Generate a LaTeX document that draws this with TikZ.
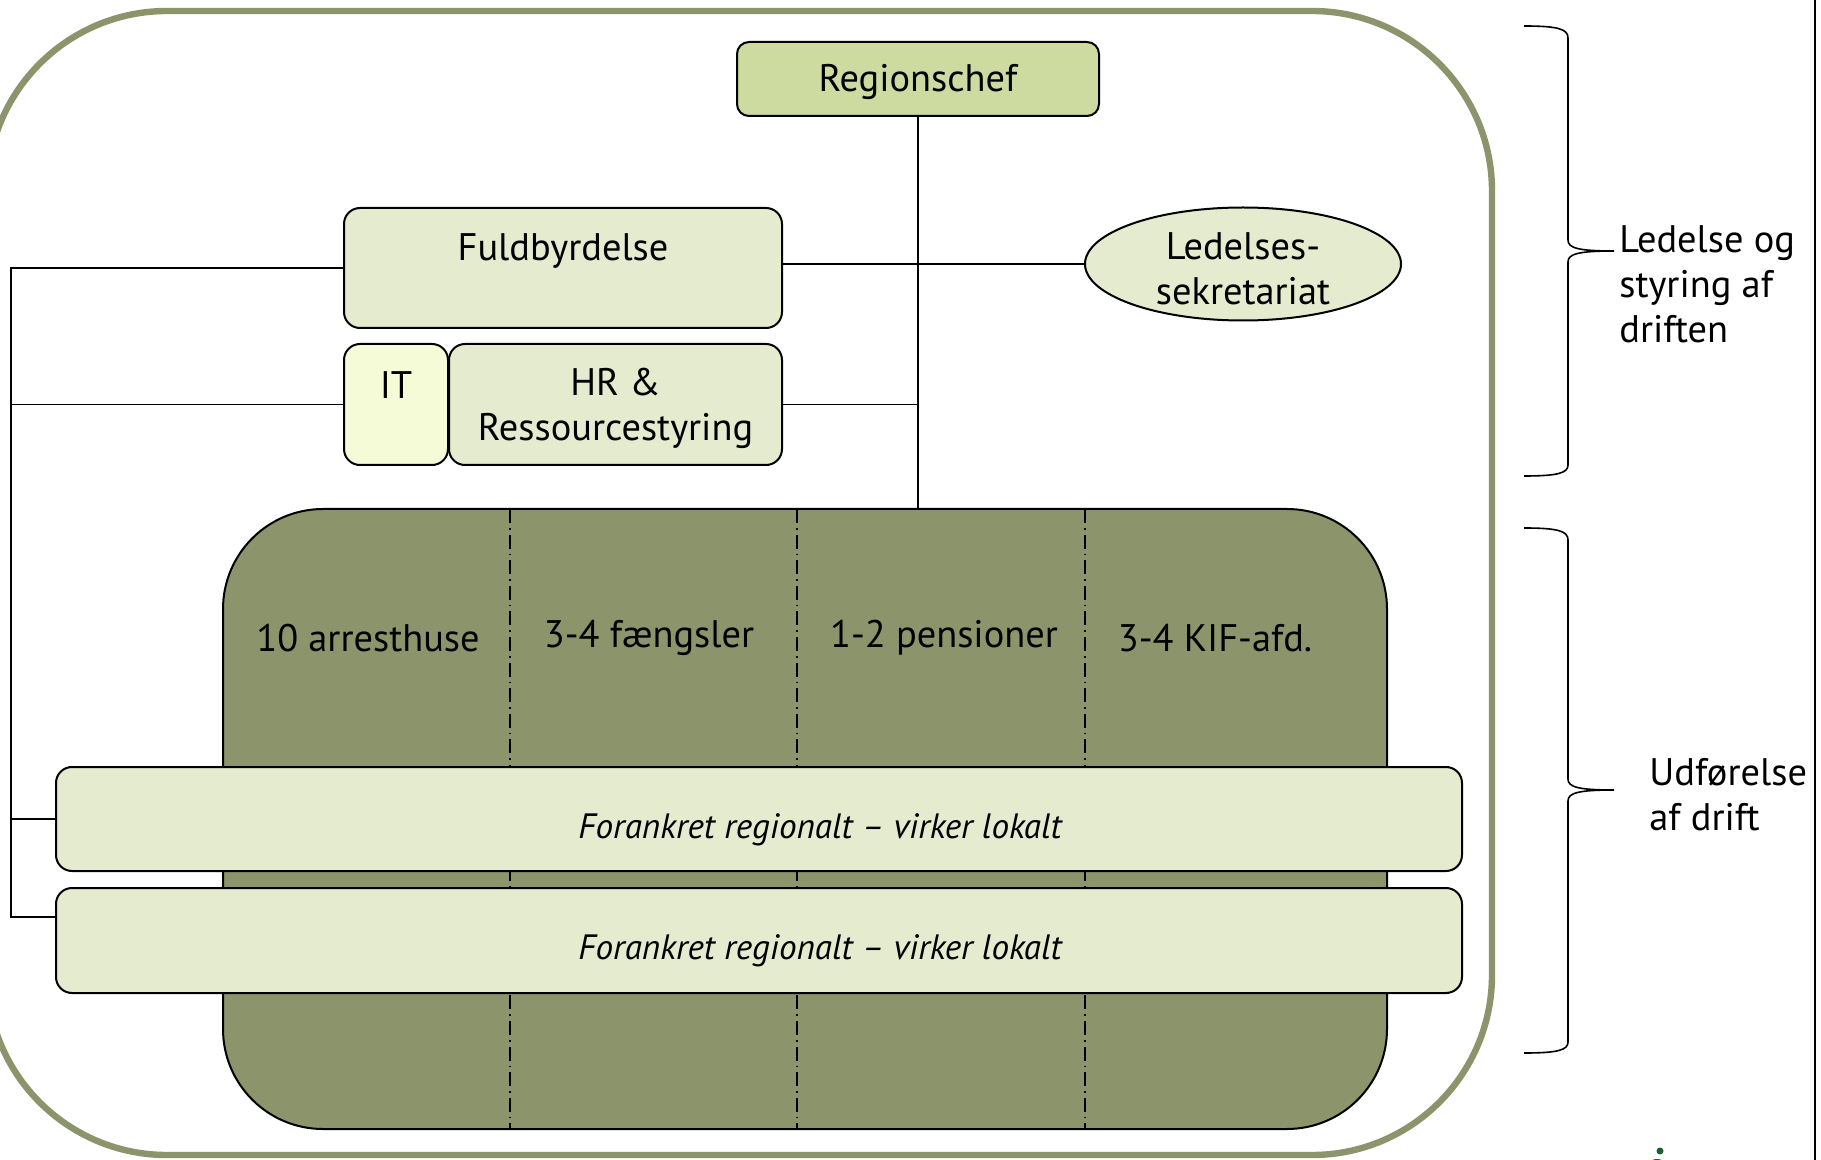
\documentclass[tikz,border=0pt]{standalone}
\usepackage{fontspec}
\setmainfont{PT Sans}
\usetikzlibrary{shapes.geometric}
\definecolor{olivec}{RGB}{139,148,106}
\definecolor{headc}{RGB}{205,219,160}
\definecolor{lightc}{RGB}{228,235,207}
\definecolor{itc}{RGB}{245,251,215}
\definecolor{logoc}{RGB}{30,95,50}
\begin{document}
\begin{tikzpicture}[x=0.5pt,y=-0.5pt,
  lbox/.style={draw=black, line width=1pt, fill=lightc, rounded corners=8pt, inner sep=0pt},
  conn/.style={draw=black, line width=0.9pt},
  txt/.style={font=\fontsize{19.2}{22.5}\selectfont, align=center, inner sep=0pt},
  itxt/.style={font=\fontsize{17.6}{20}\selectfont\itshape, inner sep=0pt},
  divider/.style={draw=black, line width=0.6pt, dash pattern=on 7pt off 2.5pt on 0.8pt off 2.5pt},
  bracestyle/.style={draw=black, line width=0.8pt}]
\path[use as bounding box] (0,0) rectangle (1821,1160);
\clip (0,0) rectangle (1821,1160);
\fill[white] (0,0) rectangle (1821,1160);

% outer frame
\draw[olivec, line width=3.2pt, rounded corners=90pt] (-13,11) rectangle (1492,1155);

% big operations box
\node[draw=black, line width=1pt, fill=olivec, rounded corners=50pt, minimum width=582pt, minimum height=310pt, inner sep=0pt] (big) at (805,819) {};
\draw[divider] (510,509) -- (510,1129);
\draw[divider] (797,509) -- (797,1129);
\draw[divider] (1085,509) -- (1085,1129);
\node[txt] (c1) at (368,638) {10 arresthuse};
\node[txt] (c2) at (649,638) {3-4 fængsler};
\node[txt] (c3) at (944,638) {1-2 pensioner};
\node[txt] (c4) at (1215,638) {3-4 KIF-afd.};

% bars
\node[lbox, minimum width=703pt, minimum height=52pt] (bar1) at (759,819) {};
\node[itxt] (b1t) at (820,830) {Forankret regionalt – virker lokalt};
\node[lbox, minimum width=703pt, minimum height=52.5pt] (bar2) at (759,940.5) {};
\node[itxt] (b2t) at (820,951) {Forankret regionalt – virker lokalt};

% top boxes
\node[lbox, fill=headc, rounded corners=6pt, minimum width=181pt, minimum height=37pt] (reg) at (918,79) {};
\node[txt] (regt) at (918,82) {Regionschef};
\node[lbox, minimum width=219pt, minimum height=60pt] (fuld) at (563,268) {};
\node[txt] (fuldt) at (563,251) {Fuldbyrdelse};
\node[lbox, fill=itc, minimum width=52pt, minimum height=60.5pt] (it) at (396,404.5) {};
\node[txt] (itt) at (396,385) {IT};
\node[lbox, minimum width=166.5pt, minimum height=60.5pt] (hr) at (615.5,404.5) {};
\node[txt] (hrt) at (615.5,408) {HR \&\\Ressourcestyring};
\node[ellipse, draw=black, line width=1pt, fill=lightc, minimum width=158pt, minimum height=56.5pt, inner sep=0pt] (led) at (1243,264) {};
\node[txt] (ledt) at (1243,269) {Ledelses-\\sekretariat};

% connectors
\coordinate (bt) at (11,268);
\coordinate (bb) at (11,917);
\draw[conn] (reg.south) -- (reg.south |- big.north);
\draw[conn] (led.west) -- (led.west -| fuld.east);
\draw[conn] (hr.east) -- (hr.east -| reg.south);
\draw[conn] (fuld.west) -- (bt) -- (bb) -- (bb -| bar2.west);
\draw[conn] (it.west) -- (it.west -| bt);
\draw[conn] (bar1.west) -- (bar1.west -| bt);

% braces
\draw[bracestyle] (1524,26) .. controls (1558,26) and (1568,29) .. (1568,38) -- (1568,240)
  .. controls (1568,248) and (1578,251) .. (1614,251)
  .. controls (1578,251) and (1568,254) .. (1568,262) -- (1568,465)
  .. controls (1568,473) and (1558,476) .. (1524,476);
\draw[bracestyle] (1524,528) .. controls (1558,528) and (1568,531) .. (1568,540) -- (1568,779)
  .. controls (1568,787) and (1578,790) .. (1614,790)
  .. controls (1578,790) and (1568,793) .. (1568,801) -- (1568,1042)
  .. controls (1568,1050) and (1558,1053) .. (1524,1053);
\node[txt, anchor=west, align=left] (lab1) at (1619,284) {Ledelse og\\styring af\\driften};
\node[txt, anchor=west, align=left] (lab2) at (1649,795) {Udførelse\\af drift};

% right edge line
\draw[black, line width=1.3pt] (1815,0) -- (1815,1160);

% logo fragment
\fill[logoc] (1660,1151) circle (3.5);
\fill[logoc] (1657,1163) ellipse (7 and 4);
\end{tikzpicture}
\end{document}
